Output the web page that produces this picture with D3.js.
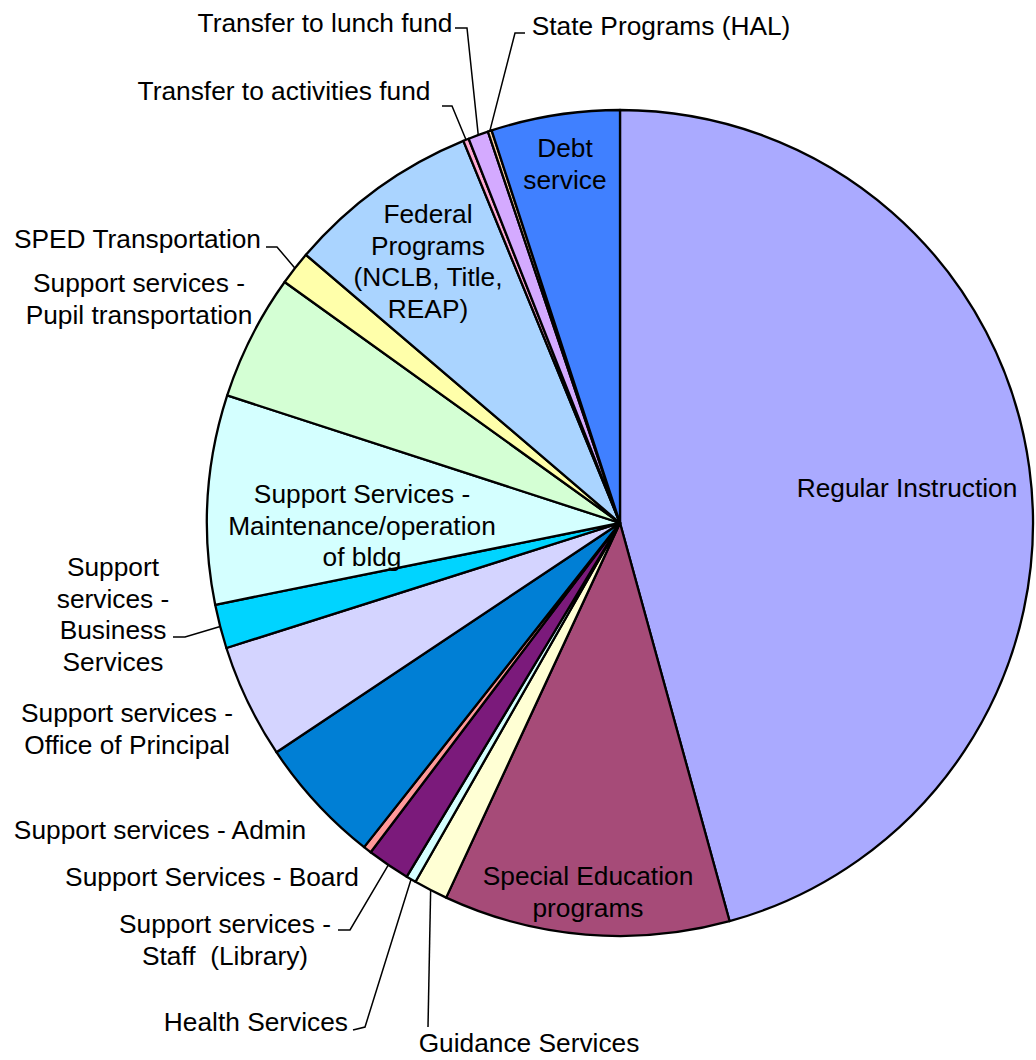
<!DOCTYPE html>
<html>
<head>
<meta charset="utf-8">
<script src="https://cdn.jsdelivr.net/npm/d3@7"></script>
<style>
  body { margin: 0; background: #fff; }
  text { font-family: "Liberation Sans", Arial, sans-serif; font-size: 26.3px; fill: #000; white-space: pre; }
</style>
</head>
<body>
<svg id="chart" width="1036" height="1060"></svg>
<script>
// slices, clockwise from 12 o'clock
const categories = [
    "Regular Instruction",
    "Special Education programs",
    "Guidance Services",
    "Health Services",
    "Support services - Staff  (Library)",
    "Support Services - Board",
    "Support services - Admin",
    "Support services - Office of Principal",
    "Support services - Business Services",
    "Support Services - Maintenance/operation of bldg",
    "Support services - Pupil transportation",
    "SPED Transportation",
    "Federal Programs (NCLB, Title, REAP)",
    "Transfer to activities fund",
    "Transfer to lunch fund",
    "State Programs (HAL)",
    "Debt service"
];

// share of budget, percent
const values = [45.72, 11.19, 1.33, 0.39, 1.68, 0.32, 5.00, 4.47, 1.72, 8.17, 4.92, 1.33, 7.56, 0.22, 0.79, 0.15, 5.03];

// how each label is broken into lines
const labelLines = [
    ["Regular Instruction"],
    ["Special Education", "programs"],
    ["Guidance Services"],
    ["Health Services"],
    ["Support services -", "Staff  (Library)"],
    ["Support Services - Board"],
    ["Support services - Admin"],
    ["Support services -", "Office of Principal"],
    ["Support", "services -", "Business", "Services"],
    ["Support Services -", "Maintenance/operation", "of bldg"],
    ["Support services -", "Pupil transportation"],
    ["SPED Transportation"],
    ["Federal", "Programs", "(NCLB, Title,", "REAP)"],
    ["Transfer to activities fund"],
    ["Transfer to lunch fund"],
    ["State Programs (HAL)"],
    ["Debt", "service"]
];

const colors = [
    "#aaaaff", "#a64b78", "#ffffd4", "#d4ffff", "#7b1a7b", "#ff9999",
    "#007fd5", "#d4d4ff", "#00d4ff", "#d4ffff", "#d4ffd4", "#ffffaa",
    "#aad4ff", "#ffaad4", "#d4aaff", "#ffd4aa", "#4080ff"
];

// label placement: baseline of first line, anchor, and leader elbow (text side)
const labelLayout = [
    { x: 907, y: 497, anchor: "middle" },
    { x: 588, y: 885, anchor: "middle" },
    { x: 529, y: 1052, anchor: "middle", leader: [[428, 1027]] },
    { x: 348, y: 1031, anchor: "end", leader: [[353, 1030], [365, 1027]] },
    { x: 225, y: 933, anchor: "middle", leader: [[338, 930], [350, 930]] },
    { x: 212, y: 886, anchor: "middle" },
    { x: 160, y: 839, anchor: "middle" },
    { x: 127, y: 722, anchor: "middle" },
    { x: 113, y: 576, anchor: "middle", leader: [[173, 637], [185, 637]] },
    { x: 362, y: 503, anchor: "middle" },
    { x: 139, y: 292, anchor: "middle" },
    { x: 261, y: 248, anchor: "end", leader: [[266, 247], [277, 247]] },
    { x: 428, y: 223, anchor: "middle" },
    { x: 284, y: 100, anchor: "middle", leader: [[442, 106], [452, 106]] },
    { x: 325, y: 32, anchor: "middle", leader: [[455, 28], [467, 28]] },
    { x: 661, y: 35, anchor: "middle", leader: [[525, 33], [515, 33]] },
    { x: 565, y: 157, anchor: "middle" }
];

const lineHeight = 31.5;
const cx = 620, cy = 523, radius = 413;

const svg = d3.select("#chart");

const pie = d3.pie().sort(null).value(d => d.value);
const arc = d3.arc().innerRadius(0).outerRadius(radius);

const data = categories.map((c, i) => ({ name: c, value: values[i], i: i }));
const arcs = pie(data);

const g = svg.append("g").attr("transform", `translate(${cx},${cy})`);

g.selectAll("path")
    .data(arcs)
    .enter().append("path")
    .attr("d", arc)
    .attr("fill", d => colors[d.data.i])
    .attr("stroke", "#000")
    .attr("stroke-width", 2.3)
    .attr("stroke-linejoin", "round");

// leader lines run from the label to the rim of the slice
const line = d3.line();
arcs.forEach(d => {
    const lay = labelLayout[d.data.i];
    if (!lay.leader) return;
    const mid = (d.startAngle + d.endAngle) / 2;
    const rim = [cx + radius * Math.sin(mid), cy - radius * Math.cos(mid)];
    svg.append("path")
        .attr("d", line(lay.leader.concat([rim])))
        .attr("fill", "none")
        .attr("stroke", "#000")
        .attr("stroke-width", 1.5);
});

const labels = svg.append("g");
arcs.forEach(d => {
    const lay = labelLayout[d.data.i];
    const t = labels.append("text")
        .attr("text-anchor", lay.anchor);
    labelLines[d.data.i].forEach((txt, k) => {
        t.append("tspan")
            .attr("x", lay.x)
            .attr("y", lay.y + k * lineHeight)
            .text(txt);
    });
});
</script>
</body>
</html>
